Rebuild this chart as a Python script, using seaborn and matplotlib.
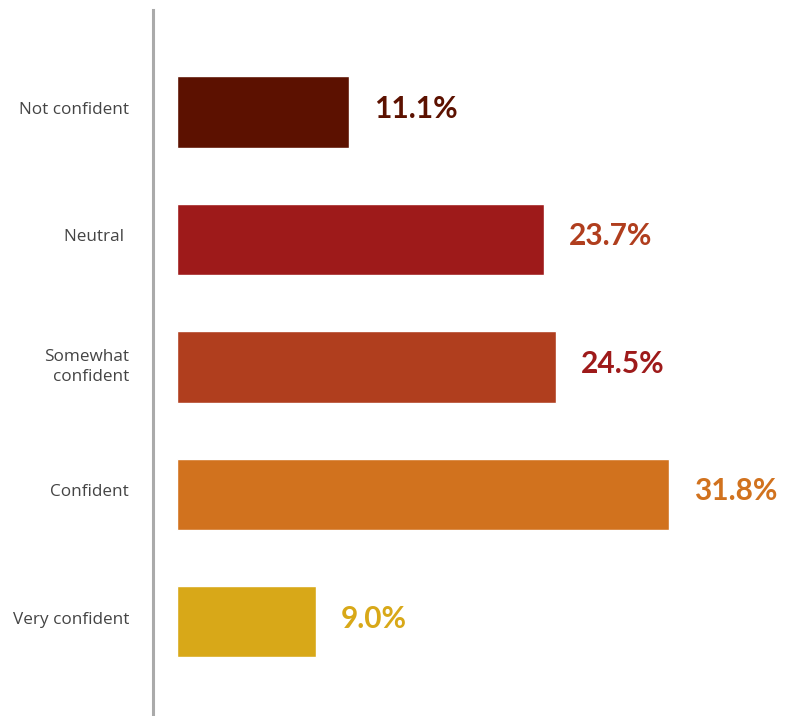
import matplotlib
matplotlib.use("Agg")
import matplotlib.pyplot as plt
import matplotlib.transforms as mtransforms
import seaborn as sns
import pandas as pd

# Survey responses: confidence level and share of respondents (%)
categories = ["Not confident", "Neutral ", "Somewhat\nconfident", "Confident", "Very confident"]
values = [11.1, 23.7, 24.5, 31.8, 9.0]
bar_colors = ["#5C1100", "#9E1A1A", "#B03E1E", "#D1721E", "#D8A818"]
label_colors = ["#5C1100", "#B03E1E", "#9E1A1A", "#D1721E", "#D8A818"]
value_labels = ["11.1%", "23.7%", "24.5%", "31.8%", "9.0%"]

df = pd.DataFrame({"category": categories, "value": values})

sns.set_theme(style="white")
plt.rcParams["font.family"] = ["Lato", "DejaVu Sans"]

W, H, DPI = 785, 716, 100
fig = plt.figure(figsize=(W / DPI, H / DPI), dpi=DPI)
ax = fig.add_axes([177 / W, 0 / H, (W - 177) / W, (H - 10) / H])

sns.barplot(
    data=df, y="category", x="value", hue="category",
    palette=bar_colors, orient="h", width=0.56, legend=False,
    saturation=1, ax=ax,
)

px_per_unit = 15.47
ax.set_xlim(0, (W - 177) / px_per_unit)
ax.set_ylim(4.74, -0.8)

for i, (v, txt, col) in enumerate(zip(values, value_labels, label_colors)):
    ax.annotate(txt, xy=(v, i), xytext=(25 * 72 / DPI, 3 * 72 / DPI), textcoords="offset points",
                ha="left", va="center", fontsize=21.5, fontweight="bold", color=col)

ax.set_xlabel("")
ax.set_ylabel("")
ax.set_xticks([])
for s in ["top", "right", "bottom"]:
    ax.spines[s].set_visible(False)
ax.spines["left"].set_position(("outward", 24 * 72 / DPI))
ax.spines["left"].set_color("#AAAAAA")
ax.spines["left"].set_linewidth(2.2)
ax.tick_params(axis="y", length=0, pad=24 * 72 / DPI, labelsize=12.3, labelcolor="#444444")
lift = mtransforms.ScaledTranslation(0, 4 / DPI, fig.dpi_scale_trans)
for lbl in ax.get_yticklabels():
    lbl.set_family(["Open Sans", "DejaVu Sans"])
    lbl.set_linespacing(1.35)
    lbl.set_transform(lbl.get_transform() + lift)

fig.savefig("out.png", dpi=DPI, facecolor="white")
